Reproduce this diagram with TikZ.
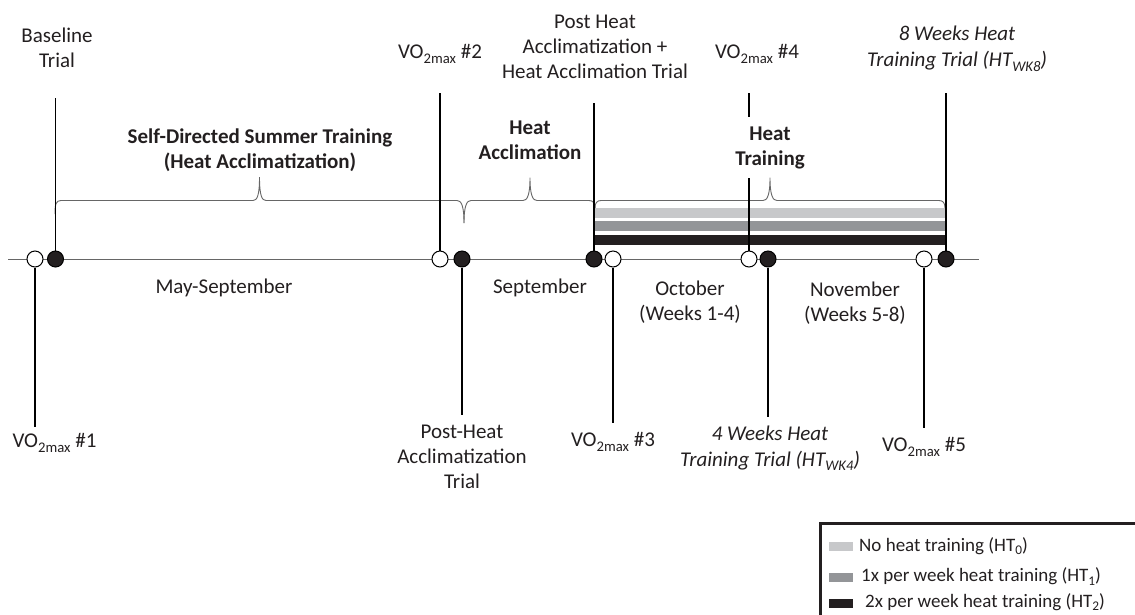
\documentclass[tikz,border=0pt]{standalone}
\usepackage{fontspec}
\setmainfont{Carlito}
\definecolor{txt}{HTML}{231F20}
\definecolor{lgray}{HTML}{C7C8CA}
\definecolor{mgray}{HTML}{939598}
\definecolor{dk}{HTML}{231F20}
\definecolor{brc}{HTML}{666666}
\definecolor{axis}{HTML}{666666}
\newcommand\mysub[1]{\raisebox{-4.5pt}{\fontsize{14.7}{15}\selectfont #1}}
\newcommand\mylegsub[1]{\raisebox{-3.5pt}{\fontsize{13.3}{14}\selectfont #1}}
\begin{document}
\begin{tikzpicture}[x=1pt,y=-1pt,
  lbl/.style={align=center, inner sep=0pt, text=txt, font=\fontsize{21}{25}\selectfont},
  bld/.style={align=center, inner sep=0pt, text=txt, font=\fontsize{21}{25}\selectfont\bfseries},
  itl/.style={align=center, inner sep=0pt, text=txt, font=\fontsize{21}{26}\selectfont\itshape},
  legtxt/.style={anchor=west, inner sep=0pt, text=txt, font=\fontsize{19}{22}\selectfont},
  opn/.style={circle, draw=black, fill=white, line width=1pt, minimum size=16pt, inner sep=0pt},
  fld/.style={circle, draw=black, fill=dk, line width=1pt, minimum size=16pt, inner sep=0pt},
  vline/.style={draw=black, line width=1.2pt},
  brace/.style={draw=brc, line width=0.9pt},
  axisline/.style={draw=axis, line width=1pt}
]
\useasboundingbox (0,0) rectangle (1135,614);

% treatment bars
\fill[lgray] (595,208) rectangle (946,217.5);
\fill[mgray] (595,221) rectangle (946,231);
\fill[dk] (595,235) rectangle (946,245);

% timeline
\coordinate (tl0) at (8,259);
\coordinate (tl1) at (979,259);
\draw[axisline] (tl0) -- (tl1);

% braces
\draw[brace] (55,214) .. controls (55,204) and (56,200.5) .. (61,200.5) -- (253,200.5)
  .. controls (257,200.5) and (259.5,196) .. (259.5,177)
  .. controls (259.5,196) and (262,200.5) .. (266,200.5) -- (457,200.5)
  .. controls (461,200.5) and (464,205) .. (464,223);
\draw[brace] (464,223) .. controls (464,205) and (467,200.5) .. (471,200.5) -- (523,200.5)
  .. controls (527,200.5) and (530,196) .. (530,177.5)
  .. controls (530,196) and (533,200.5) .. (537,200.5) -- (589,200.5)
  .. controls (593,200.5) and (595,203) .. (595,208);
\draw[brace] (595,208) .. controls (595,203) and (597,200.5) .. (601,200.5) -- (763,200.5)
  .. controls (767,200.5) and (770,196) .. (770,177.5)
  .. controls (770,196) and (773,200.5) .. (777,200.5) -- (939,200.5)
  .. controls (943,200.5) and (945,203) .. (945,208);

% markers
\node[opn] (v1) at (35,259) {};
\node[fld] (bt) at (55.5,259) {};
\node[opn] (v2) at (440,259) {};
\node[fld] (pha) at (462,259) {};
\node[fld] (pht) at (594,259) {};
\node[opn] (v3) at (613,259) {};
\node[opn] (v4) at (749,259) {};
\node[fld] (w4) at (768,259) {};
\node[opn] (v5) at (924,259) {};
\node[fld] (w8) at (946,259) {};

% line end points
\coordinate (btTop) at (55.5,98);
\coordinate (v2Top) at (440,93);
\coordinate (phtTop) at (594,103);
\coordinate (v4Top) at (749,93);
\coordinate (v4GapA) at (749,117);
\coordinate (v4GapB) at (749,178);
\coordinate (w8Top) at (946,93);
\coordinate (v1Bot) at (35,427);
\coordinate (phaBot) at (462,415);
\coordinate (v3Bot) at (613,423);
\coordinate (w4Bot) at (768,417);
\coordinate (v5Bot) at (924,428);

\draw[vline] (btTop) -- (bt.north);
\draw[vline] (v2Top) -- (v2.north);
\draw[vline] (phtTop) -- (pht.north);
\draw[vline] (v4Top) -- (v4GapA);
\draw[vline] (v4GapB) -- (v4.north);
\draw[vline] (w8Top) -- (w8.north);
\draw[vline] (v1.south) -- (v1Bot);
\draw[vline] (pha.south) -- (phaBot);
\draw[vline] (v3.south) -- (v3Bot);
\draw[vline] (w4.south) -- (w4Bot);
\draw[vline] (v5.south) -- (v5Bot);

% top labels
\node[lbl] (tBT) at (57,48) {Baseline\\Trial};
\node[lbl] (tV2) at (440,54) {VO\mysub{2max} \#2};
\node[lbl] (tPHT) at (595,47) {Post Heat\\Acclimatization +\\Heat Acclimation Trial};
\node[lbl] (tV4) at (757,54) {VO\mysub{2max} \#4};
\node[itl] (tW8) at (957,49) {8 Weeks Heat\\Training Trial (HT\mysub{WK8})};

% phase labels
\node[bld] (pSD) at (260,150) {Self-Directed Summer Training\\(Heat Acclimatization)};
\node[bld] (pHA) at (530,140.5) {Heat\\Acclimation};
\node[bld] (pHT) at (770,148) {Heat\\Training};

% period labels
\node[lbl] (mMS) at (224,288) {May-September};
\node[lbl] (mS) at (540,288) {September};
\node[lbl] (mO) at (690,302) {October\\(Weeks 1-4)};
\node[lbl] (mN) at (855,303) {November\\(Weeks 5-8)};

% bottom labels
\node[lbl] (tV1) at (54.5,443) {VO\mysub{2max} \#1};
\node[lbl] (tPHA) at (462,457) {Post-Heat\\Acclimatization\\Trial};
\node[lbl] (tV3) at (613,442) {VO\mysub{2max} \#3};
\node[itl] (tW4) at (770,448) {4 Weeks Heat\\Training Trial (HT\mysub{WK4})};
\node[lbl] (tV5) at (924,447) {VO\mysub{2max} \#5};

% legend
\draw[draw=dk, line width=3pt] (820,523) rectangle (1150,630);
\fill[lgray] (829,541.5) rectangle (853,550.5);
\fill[mgray] (829,572.5) rectangle (853,581.5);
\fill[dk] (829,598.5) rectangle (853,607.5);
\node[legtxt] (l0) at (859,546) {No heat training (HT\mylegsub{0})};
\node[legtxt] (l1) at (861,576.5) {1x per week heat training (HT\mylegsub{1})};
\node[legtxt] (l2) at (865,602) {2x per week heat training (HT\mylegsub{2})};
\end{tikzpicture}
\end{document}
